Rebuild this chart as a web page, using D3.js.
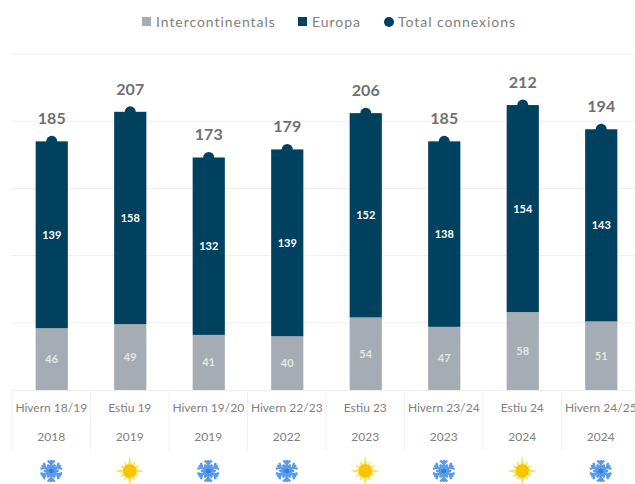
<!DOCTYPE html>
<html>
<head>
<meta charset="utf-8">
<script src="https://cdn.jsdelivr.net/npm/d3@7"></script>
<style>
  html, body { margin: 0; padding: 0; background: #fff; overflow: hidden; }
  svg { display: block; font-family: Lato, "Open Sans", sans-serif; }
</style>
</head>
<body>
<svg id="chart"></svg>
<script>
/* valors llegits de la imatge */
const periods = ["Hivern 18/19", "Estiu 19", "Hivern 19/20", "Hivern 22/23", "Estiu 23", "Hivern 23/24", "Estiu 24", "Hivern 24/25"];
const years = ["2018", "2019", "2019", "2022", "2023", "2023", "2024", "2024"];
const seasons = ["w", "s", "w", "w", "s", "w", "s", "w"];
const intercontinentals = [46, 49, 41, 40, 54, 47, 58, 51];
const europa = [139, 158, 132, 139, 152, 138, 154, 143];
const totals = [185, 207, 173, 179, 206, 185, 212, 194];
const yTicks = [0, 50, 100, 150, 200, 250];

const width = 635;
const height = 484;
const colors = { inter: "#a6acb3", europa: "#00415f", grid: "#eeeeee", text: "#808080", total: "#707070" };

const svg = d3.select("#chart").attr("width", width).attr("height", height);

const x = d3.scaleBand().domain(d3.range(periods.length)).range([12.5, 640.5]).paddingInner(0.59).paddingOuter(0.295);
const y = d3.scaleLinear().domain([0, 250]).range([390, 54]);

/* graella */
svg.append("g")
  .selectAll("line")
  .data(yTicks.slice(1))
  .join("line")
  .attr("x1", 12).attr("x2", width)
  .attr("y1", d => y(d)).attr("y2", d => y(d))
  .attr("stroke", colors.grid);

/* barres */
const bars = svg.append("g");
bars.selectAll(".inter")
  .data(intercontinentals)
  .join("rect")
  .attr("class", "inter")
  .attr("x", (d, i) => x(i))
  .attr("width", x.bandwidth())
  .attr("y", d => y(d))
  .attr("height", d => y(0) - y(d))
  .attr("fill", colors.inter);
bars.selectAll(".europa")
  .data(europa)
  .join("rect")
  .attr("class", "europa")
  .attr("x", (d, i) => x(i))
  .attr("width", x.bandwidth())
  .attr("y", (d, i) => y(d + intercontinentals[i]))
  .attr("height", d => y(0) - y(d))
  .attr("fill", colors.europa);

/* punts del total */
svg.append("g")
  .selectAll("circle")
  .data(totals)
  .join("circle")
  .attr("cx", (d, i) => x(i) + x.bandwidth() / 2)
  .attr("cy", d => y(d))
  .attr("r", 5.5)
  .attr("fill", colors.europa);

/* etiquetes de valors */
const labels = svg.append("g").attr("text-anchor", "middle");
labels.selectAll(".lab-inter")
  .data(intercontinentals)
  .join("text")
  .attr("x", (d, i) => x(i) + x.bandwidth() / 2)
  .attr("y", d => y(d / 2) + 4)
  .attr("font-size", 11).attr("font-weight", 700)
  .attr("fill", "#e4e6e8")
  .text(d => d);
labels.selectAll(".lab-europa")
  .data(europa)
  .join("text")
  .attr("x", (d, i) => x(i) + x.bandwidth() / 2)
  .attr("y", (d, i) => y(intercontinentals[i] + d / 2) + 4)
  .attr("font-size", 11).attr("font-weight", 700)
  .attr("fill", "#fff")
  .text(d => d);
labels.selectAll(".lab-total")
  .data(totals)
  .join("text")
  .attr("x", (d, i) => x(i) + x.bandwidth() / 2)
  .attr("y", d => y(d) - 17)
  .attr("font-size", 16).attr("font-weight", 700)
  .attr("fill", colors.total)
  .text(d => d);

/* eix x de dos nivells */
const xAxisBand = d3.scaleBand().domain(d3.range(periods.length)).range([12, 640]);
const axisPeriods = svg.append("g")
  .attr("transform", "translate(0,390)")
  .call(d3.axisBottom(xAxisBand).tickSize(0).tickPadding(13).tickFormat(i => periods[i]));
axisPeriods.select(".domain").attr("stroke", colors.grid);
axisPeriods.selectAll("text").attr("font-family", "Lato").attr("font-size", 12).attr("fill", colors.text);

const axisYears = svg.append("g")
  .attr("transform", "translate(0,419)")
  .call(d3.axisBottom(xAxisBand).tickSize(0).tickPadding(13).tickFormat(i => years[i]));
axisYears.select(".domain").remove();
axisYears.selectAll("text").attr("font-family", "Lato").attr("font-size", 12).attr("fill", colors.text);

svg.append("g")
  .selectAll("line")
  .data(d3.range(periods.length + 1))
  .join("line")
  .attr("x1", i => 12 + i * xAxisBand.step()).attr("x2", i => 12 + i * xAxisBand.step())
  .attr("y1", 390).attr("y2", 450)
  .attr("stroke", "#f1f1f1");

/* icones d'estació */
function snowflake(g) {
  g.append("g").selectAll("path")
    .data(d3.range(6))
    .join("path")
    .attr("transform", d => "rotate(" + d * 60 + ")")
    .attr("d", "M0,0V-11M-3.5,-10.5L0,-7L3.5,-10.5M-4,-6L0,-3L4,-6")
    .attr("fill", "none")
    .attr("stroke", "#5b9ae6")
    .attr("stroke-width", 2.4);
  g.append("circle").attr("r", 2.5).attr("fill", "#2f7fe6");
}
function sun(g) {
  g.append("g").selectAll("path")
    .data(d3.range(12))
    .join("path")
    .attr("transform", d => "rotate(" + d * 30 + ")")
    .attr("d", d => d % 3 === 0 ? "M-1.8,-7L0,-15L1.8,-7Z" : "M-1.4,-7L0,-11.5L1.4,-7Z")
    .attr("fill", "#ffdf5e");
  g.append("circle").attr("r", 7).attr("fill", "#f7c600");
}
svg.append("g")
  .selectAll("g")
  .data(seasons)
  .join("g")
  .attr("transform", (d, i) => "translate(" + (xAxisBand(i) + xAxisBand.bandwidth() / 2) + ",471)")
  .each(function(d) {
    if (d === "w") snowflake(d3.select(this));
    else sun(d3.select(this));
  });

/* llegenda */
const legend = svg.append("g").attr("font-size", 14).attr("letter-spacing", 0.95).attr("fill", colors.text);
legend.append("rect").attr("x", 142).attr("y", 17).attr("width", 9).attr("height", 9).attr("fill", colors.inter);
legend.append("text").attr("x", 156).attr("y", 27).text("Intercontinentals");
legend.append("rect").attr("x", 298).attr("y", 17).attr("width", 9).attr("height", 9).attr("fill", colors.europa);
legend.append("text").attr("x", 312).attr("y", 27).text("Europa");
legend.append("circle").attr("cx", 389).attr("cy", 22).attr("r", 5).attr("fill", colors.europa);
legend.append("text").attr("x", 398).attr("y", 27).text("Total connexions");
</script>
</body>
</html>
